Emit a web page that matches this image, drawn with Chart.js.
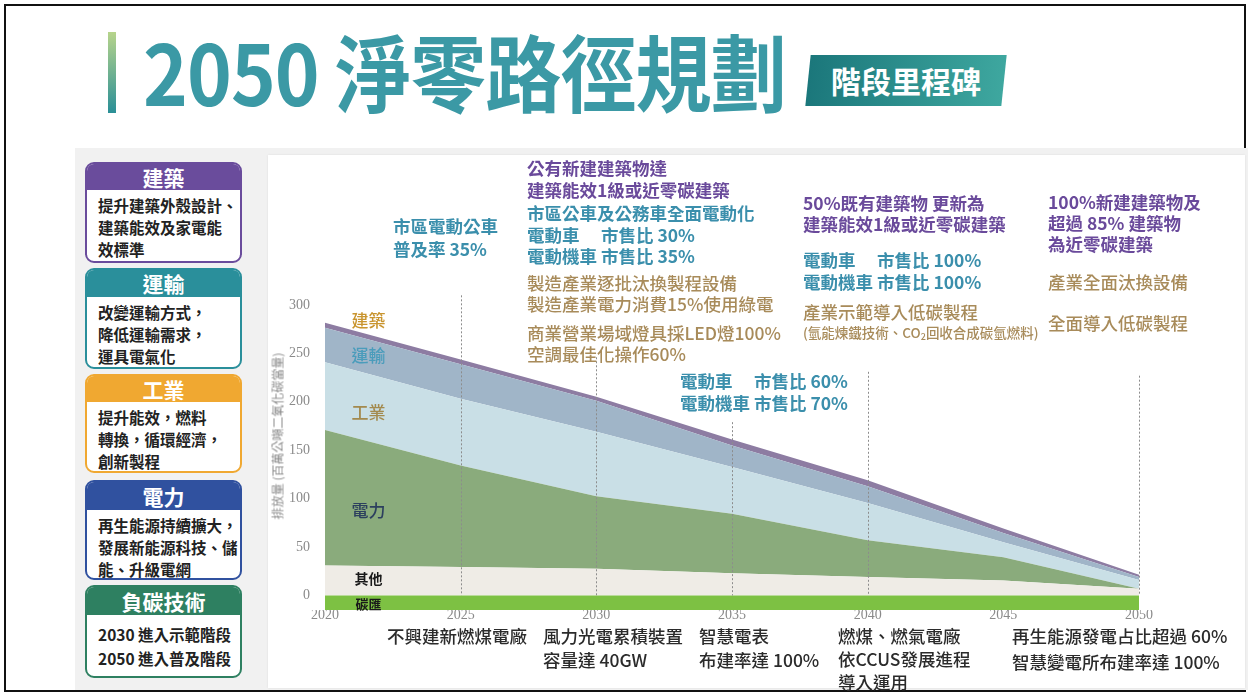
<!DOCTYPE html>
<html><head><meta charset="utf-8">
<script src="https://cdn.jsdelivr.net/npm/chart.js@4"></script>
<style>
html,body{margin:0;padding:0;background:#fff;}
body{width:1250px;height:695px;position:relative;overflow:hidden;font-family:"Noto Sans CJK TC","Noto Sans",sans-serif;}
.a{position:absolute;white-space:nowrap;}
#frame{position:absolute;left:4px;top:4px;width:1238px;height:684px;border:2px solid #111;}
#grey{position:absolute;left:75px;top:148px;width:1173px;height:542px;background:#f1f1f1;}
#panel{position:absolute;left:268px;top:155px;width:977px;height:533px;background:#fff;box-shadow:0 0 2px #ddd;}
#bar{position:absolute;left:108px;top:32px;width:8px;height:81px;background:linear-gradient(#b7d48b,#2a8f97);}
#title{left:143px;top:28px;font-size:84px;line-height:84px;font-weight:700;color:#3b99a5;letter-spacing:-1px;transform:scaleX(0.905);transform-origin:0 0;}
#badge{position:absolute;left:808px;top:55px;width:196px;height:51px;transform:skewX(-6deg);background:linear-gradient(90deg,#1b777b,#3ea79f);}
#badgeT{left:808px;top:55px;width:196px;height:51px;line-height:51px;text-align:center;color:#fff;font-size:30px;font-weight:700;}
.card{position:absolute;left:85px;width:153px;border:2px solid;border-radius:9px;background:#fff;overflow:hidden;}
.card .h{color:#fff;text-align:center;font-weight:700;font-size:21px;}
.card .b{padding:4px 0 0 11px;font-size:15.5px;line-height:22px;font-weight:700;color:#222;white-space:nowrap;}
.t{position:absolute;white-space:nowrap;font-size:17.5px;line-height:24px;font-weight:700;}
.p{color:#6a4a9b;}
.c{color:#3b8fac;}
.r{color:#a88b5a;font-weight:500;}
.k{color:#2b2b2b;font-weight:500;}
.l{display:inline-block;width:74px;}
#ytitle{left:277px;top:436px;transform:translate(-50%,-50%) rotate(-90deg);font-size:12px;color:#8a8a8a;}
</style></head>
<body>
<div id="frame"></div>
<div id="bar"></div>
<div id="title" class="a">2050 淨零路徑規劃</div>
<div id="badge"></div>
<div id="badgeT" class="a">階段里程碑</div>
<div id="grey"></div>
<div id="panel"><canvas id="c" width="977" height="533"></canvas></div>

<div class="card" style="top:162px;height:97px;border-color:#6a4c9c"><div class="h" style="background:#6a4c9c;height:26px;line-height:26px">建築</div><div class="b">提升建築外殼設計、<br>建築能效及家電能<br>效標準</div></div>
<div class="card" style="top:268px;height:97px;border-color:#2a8f9b"><div class="h" style="background:#2a8f9b;height:27px;line-height:27px">運輸</div><div class="b">改變運輸方式，<br>降低運輸需求，<br>運具電氣化</div></div>
<div class="card" style="top:374px;height:95px;border-color:#f0a831"><div class="h" style="background:#f0a831;height:26px;line-height:26px">工業</div><div class="b">提升能效，燃料<br>轉換，循環經濟，<br>創新製程</div></div>
<div class="card" style="top:480px;height:96px;border-color:#30519f"><div class="h" style="background:#30519f;height:28px;line-height:28px">電力</div><div class="b">再生能源持續擴大，<br>發展新能源科技、儲<br>能、升級電網</div></div>
<div class="card" style="top:585px;height:89px;border-color:#2e8061"><div class="h" style="background:#2e8061;height:28px;line-height:28px">負碳技術</div><div class="b" style="padding-top:7px;line-height:24px">2030 進入示範階段<br>2050 進入普及階段</div></div>

<div id="ytitle" class="a">排放量 (百萬公噸二氧化碳當量)</div>

<div class="t c" style="left:393px;top:214px">市區電動公車</div>
<div class="t c" style="left:393px;top:237px">普及率 35%</div>

<div class="t p" style="left:527px;top:156px">公有新建建築物達</div>
<div class="t p" style="left:527px;top:178px">建築能效1級或近零碳建築</div>
<div class="t c" style="left:527px;top:201px">市區公車及公務車全面電動化</div>
<div class="t c" style="left:527px;top:223px"><span class="l">電動車</span>市售比 30%</div>
<div class="t c" style="left:527px;top:244px"><span class="l">電動機車</span>市售比 35%</div>
<div class="t r" style="left:527px;top:271px">製造產業逐批汰換製程設備</div>
<div class="t r" style="left:527px;top:292px">製造產業電力消費15%使用綠電</div>
<div class="t r" style="left:527px;top:321px">商業營業場域燈具採LED燈100%</div>
<div class="t r" style="left:527px;top:342px">空調最佳化操作60%</div>

<div class="t c" style="left:680px;top:369px"><span class="l">電動車</span>市售比 60%</div>
<div class="t c" style="left:680px;top:391px"><span class="l">電動機車</span>市售比 70%</div>

<div class="t p" style="left:803px;top:191px">50%既有建築物 更新為</div>
<div class="t p" style="left:803px;top:212px">建築能效1級或近零碳建築</div>
<div class="t c" style="left:803px;top:248px"><span class="l">電動車</span>市售比 100%</div>
<div class="t c" style="left:803px;top:270px"><span class="l">電動機車</span>市售比 100%</div>
<div class="t r" style="left:803px;top:300px">產業示範導入低碳製程</div>
<div class="t r" style="left:803px;top:320px;font-size:13.5px">(氫能煉鐵技術、CO<sub style="font-size:9px;vertical-align:-2px">2</sub>回收合成碳氫燃料)</div>

<div class="t p" style="left:1048px;top:190px">100%新建建築物及</div>
<div class="t p" style="left:1048px;top:211px">超過 85% 建築物</div>
<div class="t p" style="left:1048px;top:232px">為近零碳建築</div>
<div class="t r" style="left:1048px;top:270px">產業全面汰換設備</div>
<div class="t r" style="left:1048px;top:311px">全面導入低碳製程</div>

<div class="t k" style="left:387px;top:624px">不興建新燃煤電廠</div>
<div class="t k" style="left:543px;top:624px">風力光電累積裝置</div>
<div class="t k" style="left:543px;top:648px">容量達 40GW</div>
<div class="t k" style="left:699px;top:624px">智慧電表</div>
<div class="t k" style="left:699px;top:648px">布建率達 100%</div>
<div class="t k" style="left:838px;top:624px">燃煤、燃氣電廠</div>
<div class="t k" style="left:838px;top:647px">依CCUS發展進程</div>
<div class="t k" style="left:838px;top:670px">導入運用</div>
<div class="t k" style="left:1012px;top:624px">再生能源發電占比超過 60%</div>
<div class="t k" style="left:1012px;top:650px">智慧變電所布建率達 100%</div>

<script>
const years = [2020, 2025, 2030, 2035, 2040, 2045, 2050];
const sink = [-15, -15, -15, -15, -15, -15, -15];
const other = [31, 29.3, 27.6, 23, 19, 15.5, 7];
const power = [140, 105, 75, 61.5, 38, 24, 0];
const industry = [70, 69, 66.6, 48.2, 38.6, 15.4, 9];
const transport = [35.5, 35.6, 32, 22.3, 17.2, 9.5, 3];
const building = [5.1, 4.7, 4, 6, 6.3, 4.8, 2.4];
const xTicks = [2020, 2025, 2030, 2035, 2040, 2045, 2050];
const yTicks = [0, 50, 100, 150, 200, 250, 300];
const guideYears = [2025, 2030, 2035, 2040, 2050];
const guideTops = [310, 246, 179, 231, 227];
const seriesNames = ['建築', '運輸', '工業', '電力', '其他', '碳匯'];
const seriesLabelY = [284, 248, 189, 88, 17.6, -9.3];
const seriesLabelX = 2021.6;

const guidePlugin = {
  id: 'guides',
  afterDatasetsDraw(chart) {
    const {ctx, scales: {x, y}} = chart;
    ctx.save();
    ctx.strokeStyle = '#8c8c8c';
    ctx.lineWidth = 1;
    ctx.setLineDash([2, 2]);
    guideYears.forEach((yr, i) => {
      const px = Math.round(x.getPixelForValue(yr)) + 0.5;
      ctx.beginPath();
      ctx.moveTo(px, y.getPixelForValue(guideTops[i]));
      ctx.lineTo(px, y.getPixelForValue(0));
      ctx.stroke();
    });
    ctx.setLineDash([]);
    const colors = ['#c9952f', '#4a9cbb', '#a38a4e', '#2c3f5e', '#1a1a1a', '#1a1a1a'];
    const sizes = [17, 17, 17, 17, 14, 13];
    ctx.textAlign = 'center';
    ctx.textBaseline = 'middle';
    seriesNames.forEach((n, i) => {
      ctx.fillStyle = colors[i];
      ctx.font = (i >= 4 ? '700 ' : '500 ') + sizes[i] + 'px "Noto Sans CJK TC"';
      ctx.fillText(n, x.getPixelForValue(seriesLabelX), y.getPixelForValue(seriesLabelY[i]));
    });
    ctx.restore();
  }
};

const mk = (label, arr, color, fill, stack) => ({
  label, stack, fill,
  data: years.map((yr, i) => ({x: yr, y: arr[i]})),
  backgroundColor: color, borderColor: color, borderWidth: 0,
  pointRadius: 0, tension: 0
});

new Chart(document.getElementById('c'), {
  type: 'line',
  data: {
    datasets: [
      mk('碳匯', sink, '#7dc143', 'origin', 'sink'),
      mk('其他', other, '#efece6', 'origin', 'main'),
      mk('電力', power, '#8aab7c', '-1', 'main'),
      mk('工業', industry, '#c9dfe6', '-1', 'main'),
      mk('運輸', transport, '#a0b5c8', '-1', 'main'),
      mk('建築', building, '#8d7ca2', '-1', 'main')
    ]
  },
  options: {
    responsive: false,
    animation: false,
    events: [],
    layout: {padding: {top: 150, right: 106, left: 0, bottom: 0}},
    plugins: {legend: {display: false}, tooltip: {enabled: false}},
    scales: {
      x: {
        type: 'linear', min: 2020, max: 2050,
        grid: {display: false, drawTicks: false}, border: {display: false},
        afterBuildTicks: s => { s.ticks = xTicks.map(v => ({value: v})); },
        afterFit: s => { s.height = 78; },
        ticks: {callback: v => String(v), padding: -3, color: '#8a8a8a', maxRotation: 0,
                font: {family: 'Liberation Serif', size: 14}}
      },
      y: {
        stacked: true, min: -15, max: 300,
        grid: {display: false, drawTicks: false}, border: {display: false},
        afterBuildTicks: s => { s.ticks = yTicks.map(v => ({value: v})); },
        afterFit: s => { s.width = 57; },
        ticks: {padding: 15, color: '#8a8a8a', font: {family: 'Liberation Serif', size: 14}}
      }
    }
  },
  plugins: [guidePlugin]
});
</script>
</body></html>
